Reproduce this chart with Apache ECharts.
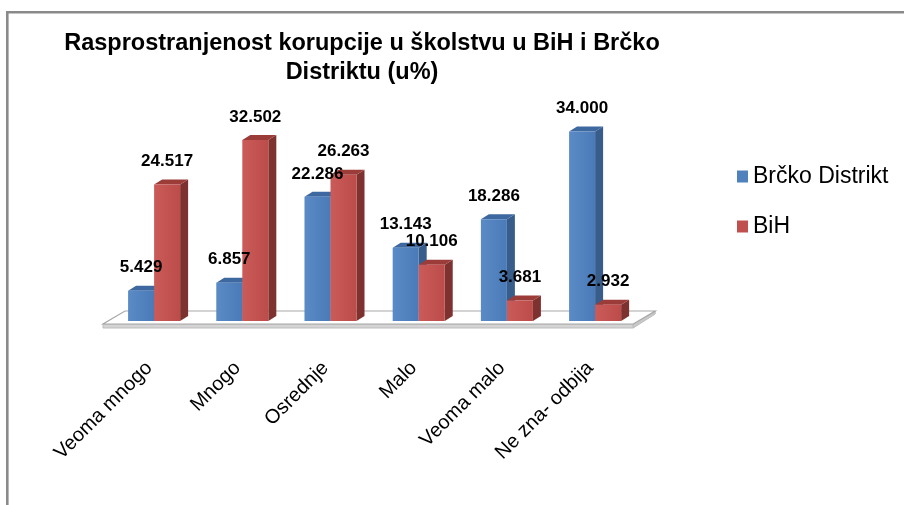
<!DOCTYPE html>
<html>
<head>
<meta charset="utf-8">
<script src="https://cdn.jsdelivr.net/npm/echarts@6/dist/echarts.min.js"></script>
<style>
html,body{margin:0;padding:0;background:#fff;}
#chart{width:904px;height:505px;}
</style>
</head>
<body>
<div id="chart"></div>
<script>
const categories = ['Veoma mnogo', 'Mnogo', 'Osrednje', 'Malo', 'Veoma malo', 'Ne zna- odbija'];
const brcko = [5.429, 6.857, 22.286, 13.143, 18.286, 34.000];
const bih = [24.517, 32.502, 26.263, 10.106, 3.681, 2.932];
const seriesNames = ['Brčko Distrikt', 'BiH'];
const titleText = 'Rasprostranjenost korupcije u školstvu u BiH i Brčko\nDistriktu (u%)';

const palette = [
  { front: ['#5A8BC6', '#4A7BB8'], side: '#385D8A', top: '#3E68A0', legend: '#4F81BD' },
  { front: ['#CB5B58', '#BC4C49'], side: '#7E3230', top: '#9C3C39', legend: '#C0504D' }
];
const DX = 8, DY = -5;

function barGeom(api, side) {
  const i = api.value(0), v = api.value(1);
  const top = api.coord([i, v]);
  const base = api.coord([i, 0]);
  const bw = api.size([1, 0])[0] * 0.295;
  const x0 = side === 0 ? top[0] - bw : top[0];
  return { x0, bw, topY: top[1], baseY: base[1] };
}

function barRenderer(side) {
  const c = palette[side];
  return function (params, api) {
    const g = barGeom(api, side);
    const { x0, bw, topY, baseY } = g;
    return {
      type: 'group',
      children: [
        { type: 'polygon', shape: { points: [[x0 + bw, topY], [x0 + bw + DX, topY + DY], [x0 + bw + DX, baseY + DY], [x0 + bw, baseY]] }, style: { fill: c.side } },
        { type: 'polygon', shape: { points: [[x0, topY], [x0 + DX, topY + DY], [x0 + bw + DX, topY + DY], [x0 + bw, topY]] }, style: { fill: c.top } },
        { type: 'rect', shape: { x: x0, y: topY, width: bw, height: baseY - topY },
          style: { fill: new echarts.graphic.LinearGradient(0, 0, 1, 0, [{ offset: 0, color: c.front[0] }, { offset: 1, color: c.front[1] }]) } }
      ]
    };
  };
}

function labelRenderer(side) {
  return function (params, api) {
    const g = barGeom(api, side);
    return {
      type: 'text',
      x: g.x0 + g.bw / 2,
      y: g.topY - 23,
      style: {
        text: api.value(1).toFixed(3),
        fill: '#000',
        font: 'bold 17px Arial, "Liberation Sans", sans-serif',
        align: 'center',
        verticalAlign: 'middle'
      }
    };
  };
}

function floorRenderer(params, api) {
  const cs = params.coordSys;
  const L = cs.x, R = cs.x + cs.width;
  const baseY = api.coord([0, 0])[1];
  const fy = baseY + 3, by = baseY - 10;
  return {
    type: 'group',
    children: [
      { type: 'polygon', shape: { points: [[L - 7, fy], [R - 6, fy], [R - 6, fy + 4], [L - 7, fy + 4]] }, style: { fill: '#D4D4D4', stroke: '#BDBDBD', lineWidth: 1 } },
      { type: 'polygon', shape: { points: [[R - 6, fy], [R + 16, by], [R + 16, by + 3], [R - 6, fy + 4]] }, style: { fill: '#C8C8C8', stroke: '#BDBDBD', lineWidth: 1 } },
      { type: 'polygon', shape: { points: [[L - 7, fy], [R - 6, fy], [R + 16, by], [L + 15, by]] }, style: { fill: '#FFFFFF', stroke: '#A8A8A8', lineWidth: 1.2 } }
    ]
  };
}

const chart = echarts.init(document.getElementById('chart'), null, { renderer: 'canvas' });
chart.setOption({
  backgroundColor: '#fff',
  animation: false,
  title: {
    text: titleText,
    left: 357,
    top: 24,
    textAlign: 'center',
    textStyle: { fontSize: 23.5, fontWeight: 'bold', lineHeight: 29, color: '#000', fontFamily: 'Arial, "Liberation Sans", sans-serif' }
  },
  legend: {
    orient: 'vertical',
    left: 732,
    top: 160,
    itemWidth: 11,
    itemHeight: 12,
    itemGap: 27,
    icon: 'rect',
    data: seriesNames,
    textStyle: { fontSize: 23, color: '#000', fontFamily: 'Arial, "Liberation Sans", sans-serif' }
  },
  grid: { left: 110, right: 264.8, top: 98.2, bottom: 184, containLabel: false },
  xAxis: {
    type: 'category',
    data: categories,
    axisLine: { show: false },
    axisTick: { show: false },
    axisLabel: { rotate: 45, margin: 39, interval: 0, padding: [0, 7, 0, 0], fontSize: 20, color: '#000', fontFamily: 'Arial, "Liberation Sans", sans-serif' },
    splitLine: { show: false }
  },
  yAxis: { type: 'value', min: 0, max: 40, show: false },
  graphic: [
    { type: 'rect', shape: { x: 7.3, y: 12.3, width: 1000, height: 1000 }, style: { fill: 'none', stroke: '#8A8A8A', lineWidth: 2.6 }, silent: true }
  ],
  series: [
    { type: 'custom', name: 'floor', z: 1, silent: true, renderItem: floorRenderer, data: [[0, 0]] },
    { type: 'custom', name: seriesNames[0], z: 2, itemStyle: { color: palette[0].legend }, renderItem: barRenderer(0), data: brcko.map((v, i) => [i, v]) },
    { type: 'custom', name: seriesNames[1], z: 3, itemStyle: { color: palette[1].legend }, renderItem: barRenderer(1), data: bih.map((v, i) => [i, v]) },
    { type: 'custom', name: 'lbl0', z: 5, silent: true, renderItem: labelRenderer(0), data: brcko.map((v, i) => [i, v]) },
    { type: 'custom', name: 'lbl1', z: 5, silent: true, renderItem: labelRenderer(1), data: bih.map((v, i) => [i, v]) }
  ]
});
</script>
</body>
</html>
